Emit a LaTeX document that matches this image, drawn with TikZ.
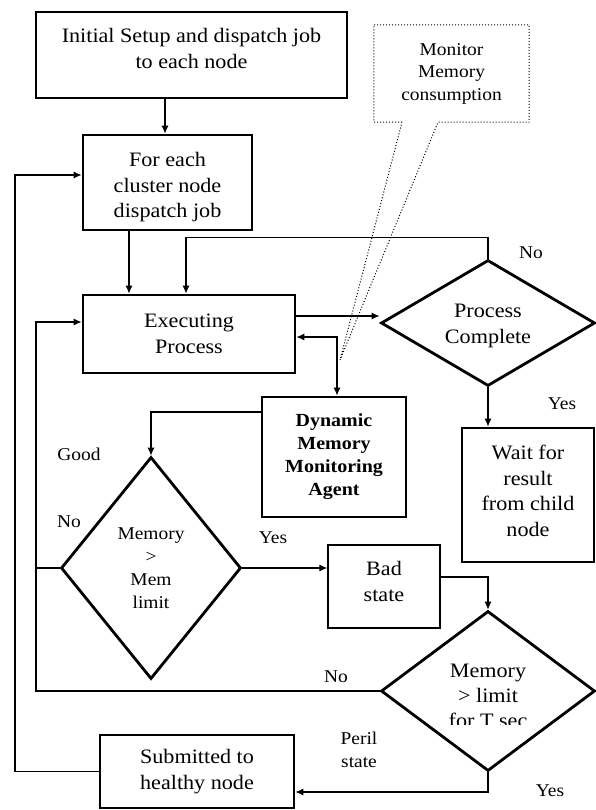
\documentclass[tikz,border=0pt]{standalone}
\usepackage{fontspec}
\setmainfont{Liberation Serif}[FakeStretch=1.08]
\usetikzlibrary{arrows.meta,shapes.geometric}
\tikzset{
  box/.style={draw, line width=2.8pt, align=center, inner sep=0pt,
    font=\fontsize{20.5}{25.5}\selectfont},
  thinbox/.style={box, line width=1.3pt},
  dia/.style={draw, diamond, line width=2.8pt, align=center, inner sep=0pt},
  lbl/.style={align=center, inner sep=0pt, font=\fontsize{18}{23}\selectfont},
  conn/.style={line width=1.1pt},
  arr/.style={conn, -{Latex[length=8pt,width=7pt]}},
  arrtwo/.style={conn, {Latex[length=8pt,width=7pt]}-{Latex[length=8pt,width=7pt]}},
  tail/.style={line width=1pt, dotted},
}
\begin{document}
\begin{tikzpicture}[x=1pt,y=-1pt]
\useasboundingbox (0,0) rectangle (595,810);
\fill[white] (0,0) rectangle (595,810);

% boxes
\node[box, minimum width=311pt, minimum height=86pt, text depth=13pt] (box1) at (191.5,55)
  {Initial Setup and dispatch job\\to each node};
\node[box, minimum width=169pt, minimum height=95pt, text height=75pt] (box2) at (167.5,182.5)
  {For each\\cluster node\\dispatch job};
\node[align=center, inner sep=0pt, minimum width=155pt, minimum height=97pt,
  font=\fontsize{18}{22.5}\selectfont] (call) at (451.5,73.5)
  {Monitor\\Memory\\consumption};
\node[box, minimum width=212pt, minimum height=78pt] (exec) at (189,334)
  {Executing\\Process};
\node[dia, minimum width=214pt, minimum height=126pt, aspect=1.7, text height=45.5pt,
  font=\fontsize{20.5}{26}\selectfont] (pc) at (488,323)
  {Process\\Complete};
\node[box, minimum width=144pt, minimum height=120pt,
  font=\fontsize{18.5}{23}\selectfont\bfseries] (agent) at (334,457)
  {Dynamic\\Memory\\Monitoring\\Agent};
\node[box, minimum width=132pt, minimum height=134pt, text depth=8pt] (wait) at (528,495)
  {Wait for\\result\\from child\\node};
\node[dia, minimum width=180pt, minimum height=222pt, aspect=0.81,
  font=\fontsize{18}{23}\selectfont] (mem) at (151,568)
  {Memory\\>\\Mem\\limit};
\node[thinbox, minimum width=112pt, minimum height=83pt, text depth=10pt] (bad) at (384,586.5)
  {Bad\\state};
\node[dia, minimum width=214pt, minimum height=160pt, aspect=1.34, text height=73.5pt,
  font=\fontsize{20.5}{25}\selectfont] (d2) at (488,691)
  {Memory\\> limit\\for T sec};
\fill[white] (447,724.5) rectangle (529,734);
\node[box, minimum width=194pt, minimum height=73pt] (sub) at (197,771.5)
  {Submitted to\\healthy node};

% callout outline and tail
\coordinate (tip) at (340,360);
\draw[tail] ([xshift=-49.5pt]call.south) -- (call.south west) -- (call.north west)
  -- (call.north east) -- (call.south east) -- ([xshift=-13.5pt]call.south)
  -- (tip) -- ([xshift=-49.5pt]call.south);

% loop coordinates
\coordinate (inl) at (36,691);
\coordinate (outl) at (15,771.5);

% connectors
\draw[arr] ([xshift=-2.5pt]box2.north |- box1.south) -- ([xshift=-2.5pt]box2.north);
\draw[arr] ([xshift=-38.5pt]box2.south) -- ([xshift=-38.5pt]box2.south |- exec.north);
\draw[arr] (pc.north) -- ++(0,-21) -| ([xshift=-3pt]exec.north);
\draw[arr] ([yshift=18pt]exec.east) -- ([yshift=18pt]exec.east -| pc.west);
\draw[arrtwo] ([yshift=-3pt]exec.east) -| ([xshift=3pt]agent.north);
\draw[arr] (pc.south) -- (pc.south |- wait.north);
\draw[arr] ([yshift=45pt]agent.west) -| (mem.north);
\draw[arr] (mem.east) -- (mem.east -| bad.west);
\draw[arr] ([yshift=9.5pt]bad.east) -| (d2.north);
\draw[arr] (d2.west) -- (inl) |- ([yshift=12pt]exec.west);
\draw[conn] (mem.west) -- (mem.west -| inl);
\draw[arr] (d2.south) |- ([yshift=-20.5pt]sub.east);
\draw[arr] (sub.west) -- (outl) |- ([yshift=7.5pt]box2.west);

% labels
\node[lbl] (l1) at (531,253) {No};
\node[lbl] (l2) at (562,404) {Yes};
\node[lbl] (l3) at (79,454) {Good};
\node[lbl] (l4) at (69,522) {No};
\node[lbl] (l5) at (273,538) {Yes};
\node[lbl] (l6) at (336,677) {No};
\node[lbl] (l7) at (359,749.5) {Peril\\state};
\node[lbl] (l8) at (550,791) {Yes};
\end{tikzpicture}
\end{document}
